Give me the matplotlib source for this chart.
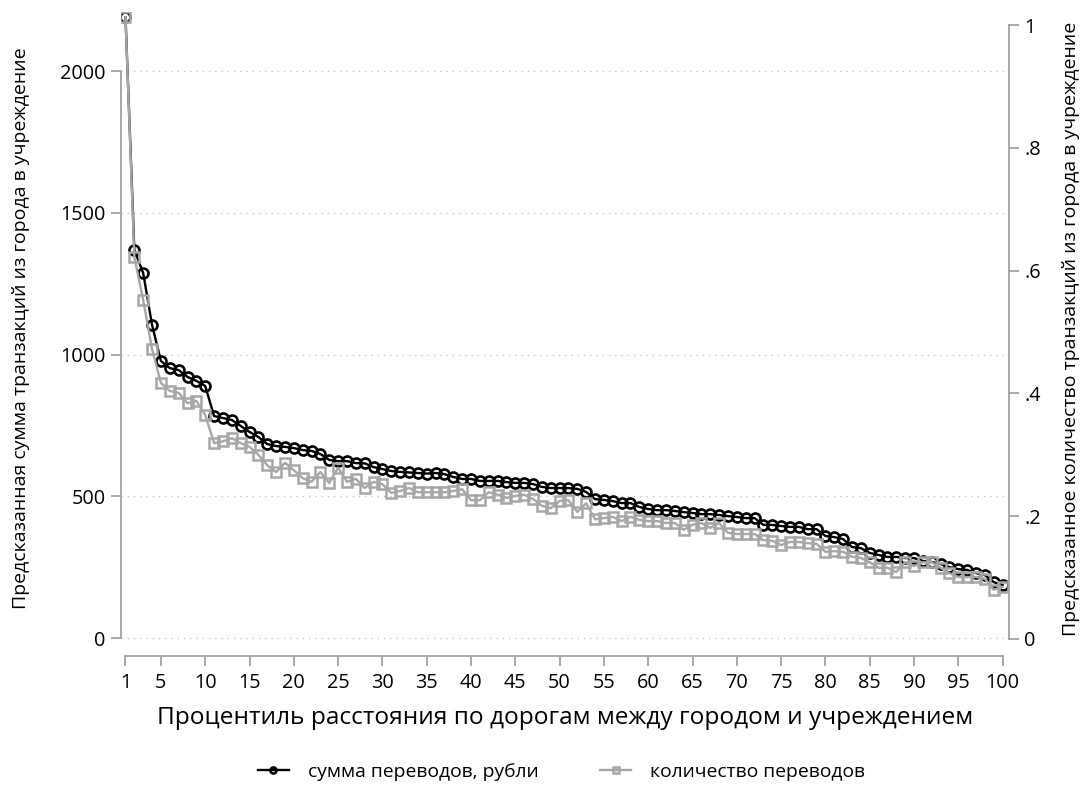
import matplotlib
matplotlib.use("Agg")
import matplotlib.pyplot as plt

# ==============================
# DATOS
# ==============================

percentile = list(range(1, 101))

sum_rub = [
    2190, 1369, 1287, 1104, 977, 952, 945, 921, 907, 889,
    783, 776, 769, 748, 727, 709, 684, 677, 674, 670,
    663, 660, 649, 628, 624, 624, 617, 616, 603, 596,
    589, 586, 584, 582, 580, 582, 578, 568, 561, 561,
    554, 554, 554, 550, 547, 547, 543, 533, 529, 529,
    529, 526, 515, 490, 487, 483, 476, 476, 462, 455,
    451, 451, 448, 444, 441, 437, 437, 434, 430, 427,
    423, 423, 399, 399, 395, 392, 392, 384, 384, 360,
    356, 349, 321, 317, 300, 293, 286, 286, 282, 282,
    272, 268, 261, 250, 243, 240, 229, 222, 197, 187,
]

count_tr = [
    1.013, 0.622, 0.552, 0.472, 0.417, 0.404, 0.401, 0.384, 0.388, 0.365,
    0.319, 0.322, 0.327, 0.319, 0.313, 0.300, 0.283, 0.272, 0.287, 0.275,
    0.262, 0.256, 0.272, 0.254, 0.279, 0.256, 0.261, 0.246, 0.256, 0.252,
    0.238, 0.241, 0.246, 0.239, 0.239, 0.239, 0.239, 0.241, 0.244, 0.226,
    0.226, 0.239, 0.235, 0.230, 0.233, 0.235, 0.228, 0.217, 0.213, 0.225,
    0.226, 0.207, 0.221, 0.195, 0.197, 0.199, 0.192, 0.199, 0.194, 0.192,
    0.192, 0.189, 0.189, 0.178, 0.186, 0.189, 0.181, 0.189, 0.173, 0.171,
    0.171, 0.171, 0.161, 0.160, 0.153, 0.158, 0.158, 0.156, 0.155, 0.142,
    0.143, 0.142, 0.134, 0.132, 0.125, 0.116, 0.116, 0.109, 0.125, 0.119,
    0.125, 0.125, 0.116, 0.107, 0.101, 0.101, 0.101, 0.098, 0.080, 0.085,
]

x_ticks = [1, 5, 10, 15, 20, 25, 30, 35, 40, 45, 50, 55, 60, 65, 70, 75, 80, 85, 90, 95, 100]
left_ticks = [0, 500, 1000, 1500, 2000]
right_ticks = [0, 0.2, 0.4, 0.6, 0.8, 1]
right_labels = ["0", ".2", ".4", ".6", ".8", "1"]

# ==============================
# ESTILO
# ==============================

plt.rcParams['font.family'] = ['Open Sans', 'DejaVu Sans']
AXIS_GRAY = "#a8a8a8"
SERIES_GRAY = "#a6a6a6"

fig = plt.figure(figsize=(10.82, 7.92), dpi=100)
ax = fig.add_axes([0.1118, 0.1856, 0.8207, 0.7992])
ax2 = ax.twinx()

l1, = ax.plot(percentile, sum_rub, color="black", lw=1.7, marker="o",
              markersize=7.2, markerfacecolor="none", markeredgewidth=1.9,
              label="сумма переводов, рубли")
l2, = ax2.plot(percentile, count_tr, color=SERIES_GRAY, lw=1.7, marker="s",
               markersize=6.6, markerfacecolor="none", markeredgewidth=1.8,
               label="количество переводов")

ax.set_xlim(0.49, 100.72)
ax.set_ylim(-24.7, 2208)
ax2.set_ylim(-0.0098, 1.0212)

# grid
ax.set_yticks(left_ticks)
ax.yaxis.grid(True, color="#bdbdbd", linestyle=(0, (1, 4)), lw=0.9)
ax.set_axisbelow(True)

# spines
for a in (ax, ax2):
    a.spines["top"].set_visible(False)
    for s in ("left", "right", "bottom"):
        a.spines[s].set_color(AXIS_GRAY)
        a.spines[s].set_linewidth(1.4)
ax.spines["right"].set_visible(False)
ax2.spines["left"].set_visible(False)
ax2.spines["bottom"].set_visible(False)
ax.spines["left"].set_bounds(0, 2000)
ax2.spines["right"].set_bounds(0, 1)
ax.spines["bottom"].set_position(("outward", 8))
ax.spines["bottom"].set_bounds(1, 100)

ax.set_xticks(x_ticks)
ax2.set_yticks(right_ticks)
ax2.set_yticklabels(right_labels)

ax.tick_params(axis="both", colors=AXIS_GRAY, labelcolor="black",
               labelsize=14.3, length=7.5, width=1.4)
ax.tick_params(axis="x", pad=5)
ax2.tick_params(axis="y", colors=AXIS_GRAY, labelcolor="black",
                labelsize=14.3, length=7.5, width=1.4)

ax.set_xlabel("Процентиль расстояния по дорогам между городом и учреждением",
              fontsize=17.6, labelpad=9)
ax.set_ylabel("Предсказанная сумма транзакций из города в учреждение",
              fontsize=14, labelpad=22)
ax2.set_ylabel("Предсказанное количество транзакций из города в учреждение",
               fontsize=14, labelpad=15)

fig.legend(handles=[l1, l2], loc="center", bbox_to_anchor=(0.519, 0.025),
           ncol=2, frameon=False, fontsize=13.9, columnspacing=3.2,
           handlelength=1.6, handletextpad=1.0, markerscale=0.6)

fig.savefig("out.png", dpi=100)
